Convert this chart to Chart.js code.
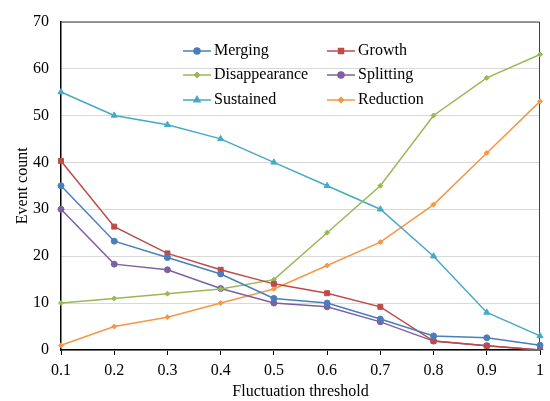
<!DOCTYPE html>
<html>
<head>
<meta charset="utf-8">
<script src="https://cdn.jsdelivr.net/npm/chart.js@4"></script>
<style>
  html, body { margin: 0; padding: 0; background: #fff; }
  #wrap { width: 550px; height: 401px; }
</style>
</head>
<body>
<div id="wrap"><canvas id="chart"></canvas></div>
<script>
const thresholds = ['0.1', '0.2', '0.3', '0.4', '0.5', '0.6', '0.7', '0.8', '0.9', '1'];
const merging = [35, 23.2, 19.7, 16.2, 11, 10, 6.6, 3, 2.6, 1];
const growth = [40.3, 26.3, 20.6, 17.1, 14.1, 12.1, 9.2, 1.9, 0.9, 0];
const disappearance = [10, 11, 12, 13, 15, 25, 35, 50, 58, 63];
const splitting = [30, 18.3, 17.1, 13.1, 10, 9.2, 6, 1.9, 0.9, 0];
const sustained = [55, 50, 48, 45, 40, 35, 30, 20, 8, 3];
const reduction = [1, 5, 7, 10, 13, 18, 23, 31, 42, 53];

const serif = '"Liberation Serif", "Times New Roman", serif';

function series(label, data, color, style, radius) {
    return {
        label: label,
        data: data,
        borderColor: color,
        backgroundColor: color,
        borderWidth: 1.5,
        pointStyle: style,
        pointRadius: radius,
        pointBorderWidth: 1,
        tension: 0
    };
}

// legend drawn inside the plot, two columns
const gridLegend = {
    id: 'gridLegend',
    afterDatasetsDraw(chart) {
        const ctx = chart.ctx;
        const cols = [183, 327];
        const rows = [51, 75, 100];
        ctx.save();
        ctx.font = '16px ' + serif;
        ctx.textBaseline = 'middle';
        ctx.fillStyle = '#000';
        chart.data.datasets.forEach((ds, i) => {
            const x = cols[i % 2];
            const y = rows[Math.floor(i / 2)];
            ctx.strokeStyle = ds.borderColor;
            ctx.lineWidth = 1.5;
            ctx.beginPath();
            ctx.moveTo(x, y);
            ctx.lineTo(x + 28, y);
            ctx.stroke();
            Chart.helpers.drawPoint(ctx, {
                pointStyle: ds.pointStyle,
                radius: ds.pointRadius,
                borderWidth: 1
            }, x + 14, y);
            ctx.fillStyle = ds.borderColor;
            ctx.fill();
            ctx.fillStyle = '#000';
            ctx.fillText(ds.label, x + 31, y);
        });
        ctx.restore();
    }
};

const plotFrame = {
    id: 'plotFrame',
    beforeDatasetsDraw(chart) {
        const a = chart.chartArea;
        const ctx = chart.ctx;
        ctx.save();
        ctx.strokeStyle = '#404040';
        ctx.lineWidth = 1;
        ctx.beginPath();
        ctx.moveTo(a.left, a.top + 0.5);
        ctx.lineTo(a.right - 0.5, a.top + 0.5);
        ctx.lineTo(a.right - 0.5, a.bottom);
        ctx.stroke();
        ctx.restore();
    }
};

new Chart(document.getElementById('chart'), {
    type: 'line',
    data: {
        labels: thresholds,
        datasets: [
            series('Merging', merging, '#4a7ebb', 'circle', 3),
            series('Growth', growth, '#be4b48', 'rect', 3.5),
            series('Disappearance', disappearance, '#98b954', 'rectRot', 2.5),
            series('Splitting', splitting, '#7d60a0', 'circle', 3),
            series('Sustained', sustained, '#46aac5', 'triangle', 3.5),
            series('Reduction', reduction, '#f79646', 'rectRot', 2.5)
        ]
    },
    plugins: [plotFrame, gridLegend],
    options: {
        responsive: true,
        maintainAspectRatio: false,
        animation: false,
        layout: { padding: { top: 21, right: 5, left: 0, bottom: 0 } },
        plugins: {
            legend: { display: false },
            tooltip: { enabled: false }
        },
        scales: {
            x: {
                offset: false,
                afterFit: scale => { scale.height = 51; },
                grid: {
                    drawOnChartArea: false,
                    drawTicks: true,
                    tickLength: 5,
                    color: '#000'
                },
                border: { color: '#000', width: 1.5 },
                ticks: {
                    color: '#000',
                    padding: 6,
                    maxRotation: 0,
                    font: { family: serif, size: 16 }
                },
                title: {
                    display: true,
                    text: 'Fluctuation threshold',
                    color: '#000',
                    padding: { top: 2, bottom: 0 },
                    font: { family: serif, size: 16 }
                }
            },
            y: {
                min: 0,
                max: 70,
                afterFit: scale => { scale.width = 61; },
                grid: {
                    color: '#d9d9d9',
                    drawTicks: false
                },
                border: { color: '#000', width: 1.5 },
                ticks: {
                    stepSize: 10,
                    color: '#000',
                    padding: 12,
                    font: { family: serif, size: 16 }
                },
                title: {
                    display: true,
                    text: 'Event count',
                    color: '#000',
                    padding: { top: 13, bottom: 0 },
                    font: { family: serif, size: 16 }
                }
            }
        }
    }
});
</script>
</body>
</html>
